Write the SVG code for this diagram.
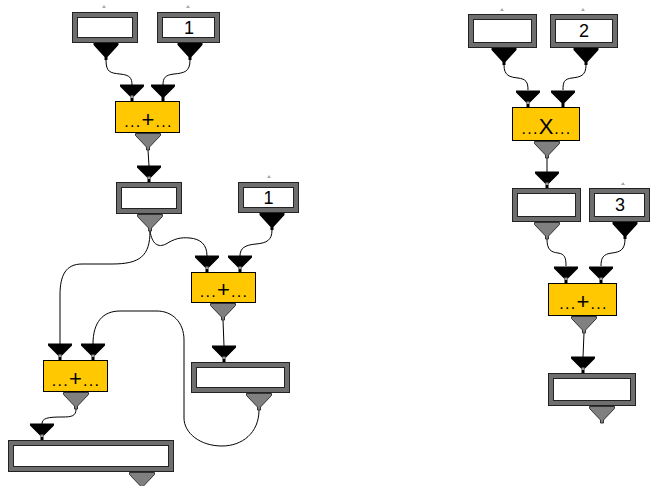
<svg xmlns="http://www.w3.org/2000/svg" width="650" height="486" viewBox="0 0 650 486">
<style>
.fo{fill:#6e6e6e;stroke:#222;stroke-width:1}
.fi{fill:#fff;stroke:#222;stroke-width:1}
.op{fill:#ffc800;stroke:#000;stroke-width:1}
.val{font-family:"Liberation Sans",Arial,sans-serif;font-size:18px;fill:#000;text-anchor:middle}
.lab{font-family:"Liberation Sans",Arial,sans-serif;font-size:16px;letter-spacing:1.3px;fill:#000;text-anchor:middle}
.big{font-size:22px;letter-spacing:1px}
.wire{fill:none;stroke:#000;stroke-width:1}
</style>
<defs>
<path id="outB" d="M-12.5,0H12.5V2L1.5,14V17H-1.5V14L-12.5,2Z" fill="#000"/>
<path id="outG" d="M-12.5,0.5H12.5V2.5L1.5,14V17H-1.5V14L-12.5,2.5Z" fill="#808080" stroke="#333" stroke-width="1"/>
<path id="inB" d="M-12,-16.5H12V-14.5L1.5,-4V0H-1.5V-4L-12,-14.5Z" fill="#000"/>
<g id="inD"><use href="#inB"/><rect x="-1.5" y="-5.5" width="3" height="2.5" fill="#999"/></g>
<path id="pin" d="M-2,0H2L0,-3Z" fill="#aaa"/>
</defs>

<g id="connectors">
<path class="wire" d="M106,60 C106,72 110,73 120,74 C130,75 132,78 132,85"/>
<path class="wire" d="M190,60 C190,72 184,73 174,74 C165,75 163,78 163,85"/>
<path class="wire" d="M148,150 L149,166"/>
<path class="wire" d="M150,231 C152,244 158,248 166,244 C174,239 180,237 190,238 C200,239 207,244 207,256"/>
<path class="wire" d="M272,230 C272,240 267,243 256,244 C245,245 240,248 240,256"/>
<path class="wire" d="M150,231 C150,256 140,264 112,264 L82,264 C66,264 60,275 60,295 L60,344"/>
<path class="wire" d="M223,320 L224,346"/>
<path class="wire" d="M259,410 C259,433 242,446 222,446 C200,446 184,433 184,418 L184,340 C184,322 172,311 157,311 L120,311 C103,311 93,322 93,344"/>
<path class="wire" d="M76,409 C76,416 72,417 62,417 C48,417 42,418 42,424"/>
<path class="wire" d="M504,65 C504,76 510,77 518,78 C526,79 528,82 528,90"/>
<path class="wire" d="M586,65 C586,76 580,77 572,78 C564,79 563,82 563,90"/>
<path class="wire" d="M547,158 L547,172"/>
<path class="wire" d="M547,239 C547,250 551,252 558,253 C565,254 566,258 566,266"/>
<path class="wire" d="M625,239 C625,250 620,252 612,253 C603,254 601,258 601,266"/>
<path class="wire" d="M584,333 L583,357"/>
</g>

<g id="in-a">
<use href="#pin" x="104" y="8"/>
<rect class="fo" x="72.5" y="12.5" width="65" height="30"/>
<rect class="fi" x="77.5" y="17.5" width="55" height="20"/>
<use href="#outB" x="106" y="43"/>
</g>
<g id="const-1a">
<use href="#pin" x="188" y="8"/>
<rect class="fo" x="157.5" y="12.5" width="62" height="30"/>
<rect class="fi" x="162.5" y="17.5" width="52" height="20"/>
<text class="val" x="189" y="34">1</text>
<use href="#outB" x="190" y="43"/>
</g>
<g id="add-1">
<use href="#inD" x="132" y="101"/>
<use href="#inB" x="163" y="101"/>
<rect class="op" x="115.5" y="101.5" width="64" height="31"/>
<text class="lab" x="148.5" y="127">...<tspan class="big">+</tspan>...</text>
<use href="#outG" x="148" y="133"/>
</g>
<g id="var-b">
<use href="#inD" x="149" y="182"/>
<rect class="fo" x="116.5" y="182.5" width="65" height="31"/>
<rect class="fi" x="121.5" y="187.5" width="55" height="21"/>
<use href="#outG" x="150" y="214"/>
</g>
<g id="const-1b">
<use href="#pin" x="269" y="178"/>
<rect class="fo" x="238.5" y="182.5" width="60" height="30"/>
<rect class="fi" x="243.5" y="187.5" width="50" height="20"/>
<text class="val" x="268.5" y="204">1</text>
<use href="#outB" x="272" y="213"/>
</g>
<g id="add-2">
<use href="#inD" x="207" y="272"/>
<use href="#inD" x="240" y="272"/>
<rect class="op" x="191.5" y="272.5" width="64" height="30"/>
<text class="lab" x="224" y="297">...<tspan class="big">+</tspan>...</text>
<use href="#outG" x="223" y="303"/>
</g>
<g id="var-c">
<use href="#inD" x="224" y="362"/>
<rect class="fo" x="191.5" y="362.5" width="98" height="30"/>
<rect class="fi" x="196.5" y="367.5" width="88" height="20"/>
<use href="#outG" x="259" y="393"/>
</g>
<g id="add-3">
<use href="#inD" x="60" y="360"/>
<use href="#inD" x="93" y="360"/>
<rect class="op" x="43.5" y="360.5" width="64" height="31"/>
<text class="lab" x="76" y="386">...<tspan class="big">+</tspan>...</text>
<use href="#outG" x="76" y="392"/>
</g>
<g id="var-d">
<use href="#inD" x="42" y="440"/>
<rect class="fo" x="8.5" y="440.5" width="165" height="31"/>
<rect class="fi" x="13.5" y="445.5" width="155" height="21"/>
<use href="#outG" x="142" y="472"/>
</g>

<g id="in-e">
<use href="#pin" x="502" y="11"/>
<rect class="fo" x="468.5" y="14.5" width="68" height="33"/>
<rect class="fi" x="473.5" y="19.5" width="58" height="23"/>
<use href="#outB" x="504" y="48"/>
</g>
<g id="const-2">
<use href="#pin" x="583" y="11"/>
<rect class="fo" x="550.5" y="14.5" width="67" height="33"/>
<rect class="fi" x="555.5" y="19.5" width="57" height="23"/>
<text class="val" x="584" y="37">2</text>
<use href="#outB" x="586" y="48"/>
</g>
<g id="mul">
<use href="#inD" x="528" y="107"/>
<use href="#inB" x="563" y="107"/>
<rect class="op" x="512.5" y="107.5" width="67" height="33"/>
<text class="lab" x="546.5" y="134">...<tspan class="big" font-size="19">X</tspan>...</text>
<use href="#outG" x="547" y="141"/>
</g>
<g id="var-f">
<use href="#inD" x="547" y="188"/>
<rect class="fo" x="512.5" y="188.5" width="68" height="33"/>
<rect class="fi" x="517.5" y="193.5" width="58" height="23"/>
<use href="#outG" x="547" y="222"/>
</g>
<g id="const-3">
<use href="#pin" x="623" y="185"/>
<rect class="fo" x="589.5" y="188.5" width="60" height="33"/>
<rect class="fi" x="594.5" y="193.5" width="50" height="23"/>
<text class="val" x="620" y="211">3</text>
<use href="#outB" x="625" y="222"/>
</g>
<g id="add-4">
<use href="#inD" x="566" y="283"/>
<use href="#inD" x="601" y="283"/>
<rect class="op" x="548.5" y="283.5" width="68" height="32"/>
<text class="lab" x="583.5" y="309">...<tspan class="big">+</tspan>...</text>
<use href="#outG" x="584" y="316"/>
</g>
<g id="var-g">
<use href="#inD" x="583" y="373"/>
<rect class="fo" x="548.5" y="373.5" width="87" height="32"/>
<rect class="fi" x="553.5" y="378.5" width="77" height="22"/>
<use href="#outG" x="602" y="406"/>
</g>
</svg>
